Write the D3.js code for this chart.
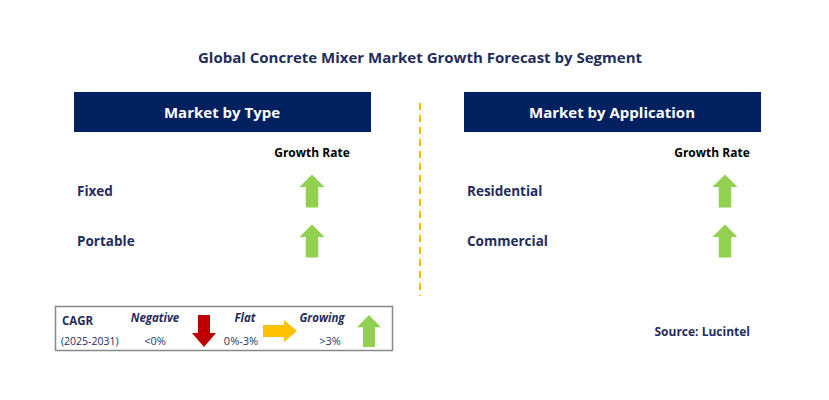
<!DOCTYPE html>
<html><head><meta charset="utf-8">
<script src="https://cdn.jsdelivr.net/npm/d3@7/dist/d3.min.js"></script>
<style>body{margin:0;background:#fff}text{font-family:"Open Sans",Arial,sans-serif}</style>
</head><body><svg id="c" width="829" height="400"></svg>
<script>
const title = "Global Concrete Mixer Market Growth Forecast by Segment";
const panels = ["Market by Type", "Market by Application"];
const typeCategories = ["Fixed", "Portable"];
const typeGrowth = ["growing", "growing"];
const appCategories = ["Residential", "Commercial"];
const appGrowth = ["growing", "growing"];
const legendLabels = ["Negative", "Flat", "Growing"];
const legendRanges = ["<0%", "0%-3%", ">3%"];

const svg = d3.select("#c");
const navy = "#002060", green = "#92d050", red = "#c00000", yellow = "#ffc000";
svg.append("text").attr("x", 420).attr("y", 63).attr("text-anchor", "middle")
  .attr("font-size", 15).attr("font-weight", "bold").attr("fill", "#1f2d5c").text(title);

function upArrow(g, cx, top, h, w) {
  const hw = w / 2, sw = w * 0.25, hh = h * 0.38;
  g.append("path").attr("fill", green)
   .attr("d", `M${cx},${top} L${cx+hw},${top+hh} L${cx+sw},${top+hh} L${cx+sw},${top+h} L${cx-sw},${top+h} L${cx-sw},${top+hh} L${cx-hw},${top+hh}Z`);
}

const panelX = [74, 464];
const data = [[typeCategories, typeGrowth], [appCategories, appGrowth]];
panels.forEach((p, i) => {
  const x0 = panelX[i];
  svg.append("rect").attr("x", x0).attr("y", 92).attr("width", 297).attr("height", 40).attr("fill", navy);
  svg.append("text").attr("x", x0 + 148).attr("y", 118).attr("text-anchor", "middle")
    .attr("fill", "#fff").attr("font-size", 15).attr("font-weight", "bold").text(p);
  const ax = x0 + 238 + (i ? 23 : 0);
  svg.append("text").attr("x", x0 + 238 + (i ? 10 : 0)).attr("y", 157).attr("text-anchor", "middle")
    .attr("font-size", 12).attr("font-weight", "bold").text("Growth Rate");
  const [cats, gr] = data[i];
  const y = d3.scaleBand().domain(cats).range([166, 266]);
  cats.forEach((c, j) => {
    const cy = y(c) + y.bandwidth() / 2;
    svg.append("text").attr("x", x0 + 3).attr("y", cy + 5).attr("font-size", 13.5)
      .attr("font-weight", "bold").attr("fill", "#1f2d5c").text(c);
    if (gr[j] === "growing") upArrow(svg, ax, cy - 33/2 + 0, 33, 25);
  });
});
svg.append("line").attr("x1", 420).attr("x2", 420).attr("y1", 103).attr("y2", 296)
  .attr("stroke", "#f5b800").attr("stroke-width", 2).attr("stroke-dasharray", "7,5");

// legend
svg.append("rect").attr("x", 55.5).attr("y", 306.5).attr("width", 337).attr("height", 44)
  .attr("fill", "#fff").attr("stroke", "#888").attr("stroke-width", 1.5);
svg.append("text").attr("x", 62).attr("y", 325).attr("font-size", 11.5).attr("font-weight", "bold").attr("fill", "#1f2d5c").text("CAGR");
svg.append("text").attr("x", 61).attr("y", 345).attr("font-size", 10.5).attr("fill", "#1f2d5c").text("(2025-2031)");
const lx = [155, 245, 322], rx = [155, 241, 330];
legendLabels.forEach((l, i) => {
  svg.append("text").attr("x", lx[i]).attr("y", 322).attr("text-anchor", "middle").attr("font-size", 11.5)
    .attr("font-weight", "bold").attr("font-style", "italic").attr("fill", "#1f2d5c").text(l);
  svg.append("text").attr("x", rx[i]).attr("y", 345).attr("text-anchor", "middle").attr("font-size", 11)
    .attr("fill", "#1f3864").text(legendRanges[i]);
});
svg.append("path").attr("fill", red).attr("d", "M198,315 L210,315 L210,333 L216,333 L204,347 L192,333 L198,333Z");
svg.append("path").attr("fill", yellow).attr("d", "M263,325 L284,325 L284,320 L297,331 L284,342 L284,337 L263,337Z");
upArrow(svg, 369, 315, 32, 24);
svg.append("text").attr("x", 750).attr("y", 336).attr("text-anchor", "end").attr("font-size", 12)
  .attr("font-weight", "bold").attr("fill", "#1f2d5c").text("Source: Lucintel");
</script></body></html>
